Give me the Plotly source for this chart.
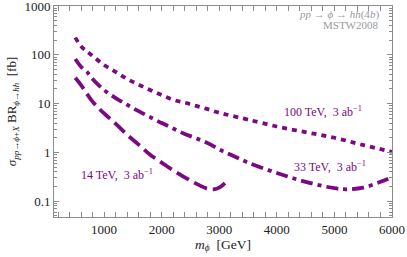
import plotly.graph_objects as go
import math

# ---- data ----
m_100 = [500, 600, 700, 800, 1000, 1200, 1400, 1600, 1800, 2000, 2200, 2400, 2600, 2800,
         3000, 3200, 3500, 4000, 4500, 5000, 5500, 6000]
sig_100 = [225, 150, 118, 95, 62, 45, 32, 24.5, 19, 15, 12, 10.5, 9, 7.7,
           6.5, 5.7, 4.7, 3.4, 2.6, 2.0, 1.42, 1.03]

m_33 = [500, 600, 700, 800, 1000, 1200, 1400, 1600, 1800, 2000, 2200, 2400, 2600, 2800,
        3000, 3200, 3500, 4000, 4500, 5000, 5200, 5500, 5800, 6000]
sig_33 = [82, 57, 45, 32, 19, 13, 9.5, 7, 5.3, 4.0, 3.1, 2.4, 1.95, 1.55,
          1.15, 0.9, 0.62, 0.38, 0.25, 0.185, 0.176, 0.19, 0.25, 0.31]

m_14 = [500, 600, 700, 800, 900, 1000, 1200, 1400, 1600, 1800, 2000, 2200, 2400, 2600,
        2800, 2900, 3000, 3100]
sig_14 = [34, 24, 16, 11, 8.2, 6.3, 3.9, 2.3, 1.45, 0.9, 0.62, 0.43, 0.31, 0.23,
          0.18, 0.176, 0.19, 0.235]

labels = ["100 TeV,  3 ab<sup>\u22121</sup>", "33 TeV,  3 ab<sup>\u22121</sup>",
          "14 TeV,  3 ab<sup>\u22121</sup>"]
label_pos = [(4800, 6.85), (4920, 0.516), (1220, 0.353)]

x_ticks = [1000, 2000, 3000, 4000, 5000, 6000]
y_ticks = [0.1, 1, 10, 100, 1000]
y_ticklabels = ["0.1", "1", "10", "100", "1000"]
y_minor = [k * 10.0 ** e for e in range(-2, 3) for k in range(2, 10)]

purple = "#7a0a82"
font_fam = "Liberation Serif"
frame = "#8c8c8c"
y_range = [math.log10(0.0476), 3.0005]

fig = go.Figure()
fig.add_trace(go.Scatter(x=m_100, y=sig_100, mode="lines", line_shape="spline",
                         line=dict(color=purple, width=3.8, dash="5px,5px")))
fig.add_trace(go.Scatter(x=m_33, y=sig_33, mode="lines", line_shape="spline",
                         line=dict(color=purple, width=3.8, dash="12px,5px,4px,5px")))
fig.add_trace(go.Scatter(x=m_14, y=sig_14, mode="lines", line_shape="spline",
                         line=dict(color=purple, width=3.8, dash="14px,6px")))
fig.add_trace(go.Scatter(x=[None], y=[None], yaxis="y2", showlegend=False, hoverinfo="skip"))

for txt, (xx, yy) in zip(labels, label_pos):
    fig.add_annotation(x=xx, y=math.log10(yy), text=txt, showarrow=False,
                       font=dict(family=font_fam, size=12, color=purple))

fig.add_annotation(xref="paper", yref="paper", x=0.968, y=0.962, xanchor="right", yanchor="middle",
                   text="<i>pp</i> \u2192 <i>\u03d5</i> \u2192 <i>hh</i>(4<i>b</i>)", showarrow=False,
                   font=dict(family=font_fam, size=11, color="#9a9a9a"))
fig.add_annotation(xref="paper", yref="paper", x=0.968, y=0.91, xanchor="right", yanchor="middle",
                   text="MSTW2008", showarrow=False,
                   font=dict(family=font_fam, size=11, color="#9a9a9a"))

fig.update_layout(
    width=407, height=257,
    margin=dict(l=54, r=15, t=6, b=40, autoexpand=False),
    paper_bgcolor="white", plot_bgcolor="white",
    showlegend=False,
    font=dict(family=font_fam, size=13, color="#222"),
    xaxis=dict(range=[130, 6000], tickvals=x_ticks, ticks="inside", ticklen=5,
               tickcolor=frame, showline=True, linecolor=frame, linewidth=1, mirror="allticks",
               showgrid=False, zeroline=False, automargin=False,
               minor=dict(dtick=200, ticks="inside", ticklen=3, tickcolor=frame, showgrid=False),
               title=dict(text="<i>m</i><sub><i>\u03d5</i></sub>  [GeV]", standoff=1,
                          font=dict(size=13.5))),
    yaxis=dict(type="log", range=y_range, tickvals=y_ticks, ticktext=y_ticklabels,
               ticks="inside", ticklen=5, tickcolor=frame, showline=True, linecolor=frame, linewidth=1,
               mirror="allticks", showgrid=False, zeroline=False, automargin=False,
               ticklabeloverflow="allow",
               title=dict(text="<i>\u03c3</i><sub><i>pp</i>\u2192<i>\u03d5</i>+<i>X</i></sub> BR<sub><i>\u03d5</i>\u2192<i>hh</i></sub>  [fb]",
                          standoff=4, font=dict(size=13))),
    yaxis2=dict(type="log", range=y_range, overlaying="y", side="left", tickvals=y_minor,
                showticklabels=False, ticks="inside", ticklen=3, tickcolor=frame,
                showline=False, mirror="ticks", showgrid=False, zeroline=False, automargin=False),
)

fig.write_html("out.html", config={"displayModeBar": False},
               post_script="document.body.style.margin='0';")
